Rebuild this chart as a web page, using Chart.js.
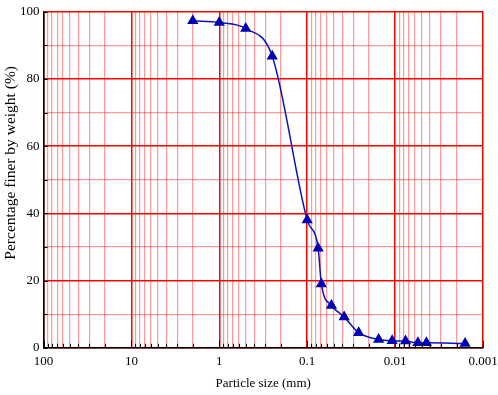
<!DOCTYPE html>
<html>
<head>
<meta charset="utf-8">
<script src="https://cdn.jsdelivr.net/npm/chart.js@4"></script>
<style>
  html, body { margin: 0; padding: 0; background: #fff; }
  #wrap { width: 498px; height: 395px; }
</style>
</head>
<body>
<div id="wrap"><canvas id="grading"></canvas></div>
<script>
// particle size (mm) and percent passing
let sizes = [2, 1, 0.5, 0.25, 0.1, 0.075, 0.069, 0.053, 0.038, 0.026, 0.0154, 0.0108, 0.0076, 0.0055, 0.0044, 0.0016];
let finer = [97.3, 96.8, 95.0, 86.8, 38.0, 29.6, 19.0, 12.6, 9.2, 4.5, 2.5, 2.1, 2.0, 1.5, 1.5, 1.3];

let decades = [0.001, 0.01, 0.1, 1, 10, 100];
let decadeLabels = ['0.001', '0.01', '0.1', '1', '10', '100'];
let minorSteps = [1, 2, 3, 4, 5, 6, 7, 8, 9];
let yTickLabels = [0, 20, 40, 60, 80, 100];
const yTitle = 'Percentage finer by weight (%)';

const points = sizes.map((s, i) => ({ x: s, y: finer[i] }));

const majorRed = 'rgb(255, 0, 0)';
const minorRed = 'rgba(255, 30, 30, 0.45)';

// small black ticks pointing into the plot, plus the y title (sits a bit above centre in the original)
const extras = {
  id: 'extras',
  afterDraw(chart) {
    const { ctx, chartArea, scales } = chart;
    ctx.save();
    ctx.strokeStyle = '#000';
    ctx.lineWidth = 1;
    ctx.beginPath();
    scales.x.ticks.forEach((t, i) => {
      const px = Math.round(scales.x.getPixelForValue(t.value)) + 0.5;
      const len = i % 9 === 0 ? 7 : 4;
      ctx.moveTo(px, chartArea.bottom);
      ctx.lineTo(px, chartArea.bottom - len);
    });
    scales.y.ticks.forEach(t => {
      const py = Math.round(scales.y.getPixelForValue(t.value)) + 0.5;
      ctx.moveTo(chartArea.left, py);
      ctx.lineTo(chartArea.left + 4, py);
    });
    ctx.stroke();

    ctx.translate(11, (chartArea.top + chartArea.bottom) / 2 - 17);
    ctx.rotate(-Math.PI / 2);
    ctx.fillStyle = '#000';
    ctx.font = '15.5px "Liberation Serif"';
    ctx.textAlign = 'center';
    ctx.textBaseline = 'middle';
    ctx.fillText(yTitle, 0, 0);
    ctx.restore();
  }
};

const config = {
  type: 'line',
  data: {
    datasets: [{
      data: points,
      borderColor: 'rgb(10, 20, 190)',
      backgroundColor: 'rgb(0, 0, 180)',
      borderWidth: 1.5,
      cubicInterpolationMode: 'monotone',
      pointStyle: 'triangle',
      pointRadius: 5,
      pointHoverRadius: 5,
      pointBorderColor: 'rgb(0, 0, 180)',
      pointBackgroundColor: 'rgb(0, 0, 180)'
    }]
  },
  options: {
    responsive: true,
    maintainAspectRatio: false,
    animation: false,
    layout: { padding: { top: 0, right: 15, left: 16, bottom: 2 } },
    plugins: {
      legend: { display: false },
      tooltip: { enabled: false }
    },
    scales: {
      x: {
        type: 'logarithmic',
        reverse: true,
        min: 0.001,
        max: 100,
        afterBuildTicks(scale) {
          const t = [];
          decades.slice(0, -1).forEach(d => minorSteps.forEach(m => t.push({ value: +(d * m).toPrecision(3) })));
          t.push({ value: 100 });
          scale.ticks = t;
        },
        ticks: {
          autoSkip: false,
          maxRotation: 0,
          color: '#000',
          padding: 6,
          font: { family: 'Liberation Serif', size: 13 },
          callback(v, i) {
            return i % 9 === 0 ? decadeLabels[i / 9] : '';
          }
        },
        grid: {
          color: c => (c.index % 9 === 0 ? majorRed : minorRed),
          lineWidth: c => (c.index % 9 === 0 ? 1.5 : 1.2),
          drawTicks: false
        },
        border: { color: '#000', width: 1.5 },
        title: {
          display: true,
          text: 'Particle size (mm)',
          color: '#000',
          font: { family: 'Liberation Serif', size: 13 },
          padding: { top: 0, bottom: 2 }
        }
      },
      y: {
        min: 0,
        max: 100,
        ticks: {
          stepSize: 10,
          color: '#000',
          padding: 4,
          font: { family: 'Liberation Serif', size: 13 },
          callback: v => yTickLabels.includes(v) ? String(v) : ''
        },
        grid: {
          color: c => (c.tick.value % 20 === 0 ? majorRed : minorRed),
          lineWidth: c => (c.tick.value % 20 === 0 ? 1.5 : 1.2),
          drawTicks: false
        },
        border: { color: '#000', width: 1.5 },
        title: { display: false }
      }
    }
  },
  plugins: [extras]
};

const chart = new Chart(document.getElementById('grading'), config);
</script>
</body>
</html>
